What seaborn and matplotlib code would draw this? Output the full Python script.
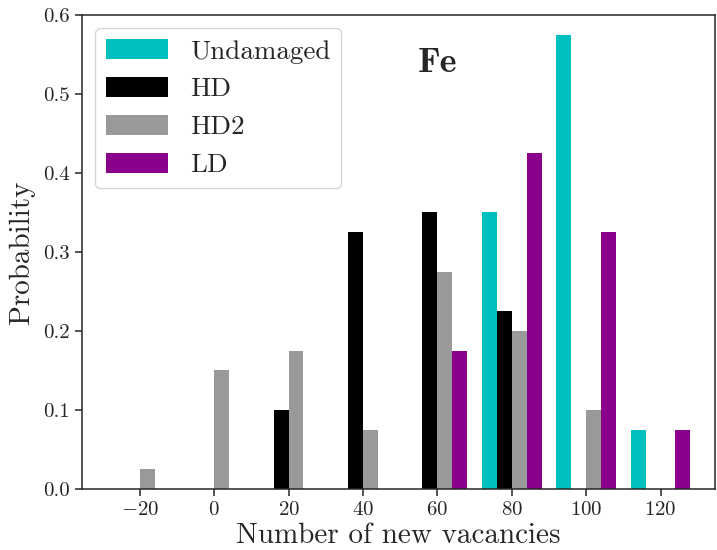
import pandas as pd
import matplotlib
matplotlib.use("Agg")
import matplotlib.pyplot as plt
from matplotlib.patches import Patch
import seaborn as sns

# bin centres (number of new vacancies) and probabilities per sample
centers = [-20, 0, 20, 40, 60, 80, 100, 120]
undamaged = [0, 0, 0, 0, 0, 0.35, 0.575, 0.075]
hd = [0, 0, 0.10, 0.325, 0.35, 0.225, 0, 0]
hd2 = [0.025, 0.15, 0.175, 0.075, 0.275, 0.20, 0.10, 0]
ld = [0, 0, 0, 0, 0.175, 0.425, 0.325, 0.075]

groups = ["Undamaged", "HD", "HD2", "LD"]
colors = ["#00bfbf", "black", "#999999", "#8b008b"]

df = pd.concat([
    pd.DataFrame({"x": centers, "p": vals, "group": name})
    for name, vals in zip(groups, [undamaged, hd, hd2, ld])
])

sns.set_theme(style="ticks")
plt.rcParams["font.family"] = ["cmr10"]
plt.rcParams["mathtext.fontset"] = "cm"
plt.rcParams["axes.formatter.use_mathtext"] = True
plt.rcParams["axes.unicode_minus"] = True

fig, ax = plt.subplots(figsize=(7.17, 5.5), dpi=100)
fig.subplots_adjust(left=0.114, right=0.997, bottom=0.111, top=0.973)

sns.barplot(data=df, x="x", y="p", hue="group", hue_order=groups,
            palette=colors, native_scale=True, errorbar=None,
            linewidth=0, saturation=1, legend=False, ax=ax)

ax.set_xlim(-35.6, 134.6)
ax.set_ylim(0, 0.6)
ax.set_xticks([-20, 0, 20, 40, 60, 80, 100, 120])
ax.set_yticks([0.0, 0.1, 0.2, 0.3, 0.4, 0.5, 0.6])
ax.set_yticklabels(["0.0", "0.1", "0.2", "0.3", "0.4", "0.5", "0.6"])
ax.tick_params(labelsize=15, length=5, width=1.1, colors="0.15")
for s in ax.spines.values():
    s.set_visible(True)
    s.set_linewidth(1.1)
    s.set_color("0.15")

ax.set_xlabel("Number of new vacancies", fontsize=21, labelpad=3)
ax.set_ylabel("Probability", fontsize=21, labelpad=6)

ax.text(60, 0.538, "Fe", family="cmb10", fontsize=26, ha="center", va="center")

handles = [Patch(facecolor=c, edgecolor="none") for c in colors]
ax.legend(handles, groups, loc="upper left", fontsize=19.5,
          handlelength=2.3, handleheight=0.75, borderaxespad=0.5,
          frameon=True, framealpha=0.8, edgecolor="0.8", fancybox=True)

fig.savefig("out.png", dpi=100)
